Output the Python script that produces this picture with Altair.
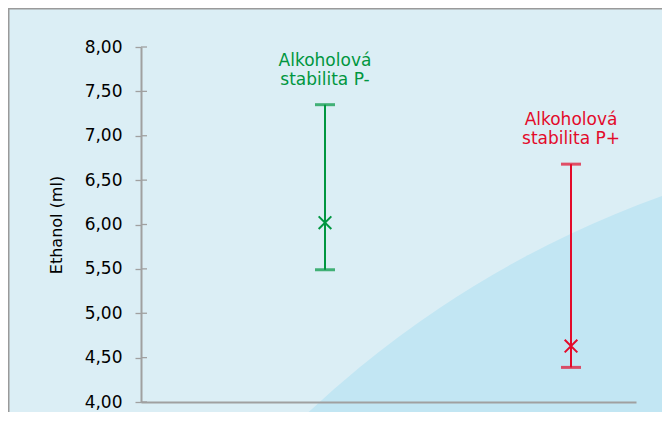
import math
import altair as alt
import pandas as pd

# ---- data ----
categories = ["Alkoholová stabilita P-", "Alkoholová stabilita P+"]
labels = ["Alkoholová\nstabilita P-", "Alkoholová\nstabilita P+"]
means = [6.02, 4.63]
lows = [5.49, 4.39]
highs = [7.35, 6.68]
colors = ["#009640", "#e30a2a"]
y_ticks = [4.0, 4.5, 5.0, 5.5, 6.0, 6.5, 7.0, 7.5, 8.0]

df = pd.DataFrame({"cat": categories, "label": labels, "mean": means,
                   "low": lows, "high": highs})
ticks_df = pd.DataFrame({"t": y_ticks})
dummy = pd.DataFrame({"d": [0]})

AXIS_GREY = "#a0a0a0"
FONT = "DejaVu Sans"

yscale = alt.Scale(domain=[4, 8], nice=False, zero=False)
xscale = alt.Scale(type="point", padding=0.506, align=0.739)
cscale = alt.Scale(domain=categories, range=colors)

# decorations
border = alt.Chart(dummy).mark_rect(fillOpacity=0, stroke="#9a9a9a", strokeWidth=1.5).encode(
    x=alt.value(-132.25), y=alt.value(-38.25), x2=alt.value(800), y2=alt.value(800))
swoosh = alt.Chart(dummy).mark_arc(radius=1014, theta=0, theta2=2 * math.pi,
                                   color="#c2e6f3").encode(
    x=alt.value(862), y=alt.value(1104))

inner_ticks = alt.Chart(ticks_df).mark_rule(color=AXIS_GREY, strokeWidth=1.3).encode(
    y=alt.Y("t:Q", scale=yscale),
    x=alt.value(0), x2=alt.value(6))

base = alt.Chart(df).encode(
    x=alt.X("cat:N", scale=xscale, sort=categories,
            axis=alt.Axis(title=None, labels=False, ticks=False, grid=False,
                          domainColor=AXIS_GREY, domainWidth=2, zindex=1)),
    color=alt.Color("cat:N", scale=cscale, legend=None),
)

yaxis = alt.Axis(values=y_ticks, grid=False,
                 labelExpr="replace(format(datum.value, '.2f'), '.', ',')",
                 tickSize=6, tickColor=AXIS_GREY, tickWidth=1.3,
                 domainColor=AXIS_GREY, domainWidth=2,
                 labelPadding=13, labelFontSize=17, labelColor="#000000", labelFont=FONT,
                 title="Ethanol (ml)", titleFontSize=16, titleFontWeight="normal",
                 titleColor="#000000", titleFont=FONT, titlePadding=20, zindex=1)

rule = base.mark_rule(strokeWidth=2).encode(
    y=alt.Y("low:Q", scale=yscale, axis=yaxis), y2="high:Q")
cap_hi = base.mark_tick(size=20, thickness=3).encode(y=alt.Y("high:Q", scale=yscale))
cap_lo = base.mark_tick(size=20, thickness=3).encode(y=alt.Y("low:Q", scale=yscale))
pts = base.mark_point(shape="M-1,-1L1,1M-1,1L1,-1", filled=False, size=160,
                      strokeWidth=2, opacity=1).encode(y=alt.Y("mean:Q", scale=yscale))
txt = base.mark_text(lineBreak="\n", baseline="bottom", align="center", dy=-35,
                     fontSize=17, font=FONT, lineHeight=19).encode(
    y=alt.Y("high:Q", scale=yscale), text="label:N")

chart = alt.layer(border, swoosh, inner_ticks, rule, cap_hi, cap_lo, pts, txt).properties(
    width=495, height=355,
    autosize=alt.AutoSizeParams(type="none"),
    padding={"left": 133, "top": 39, "right": 26, "bottom": 10},
    background="#dbeef5",
).configure_view(strokeWidth=0)

chart.save("out.html", embed_options={"renderer": "svg", "actions": False})
